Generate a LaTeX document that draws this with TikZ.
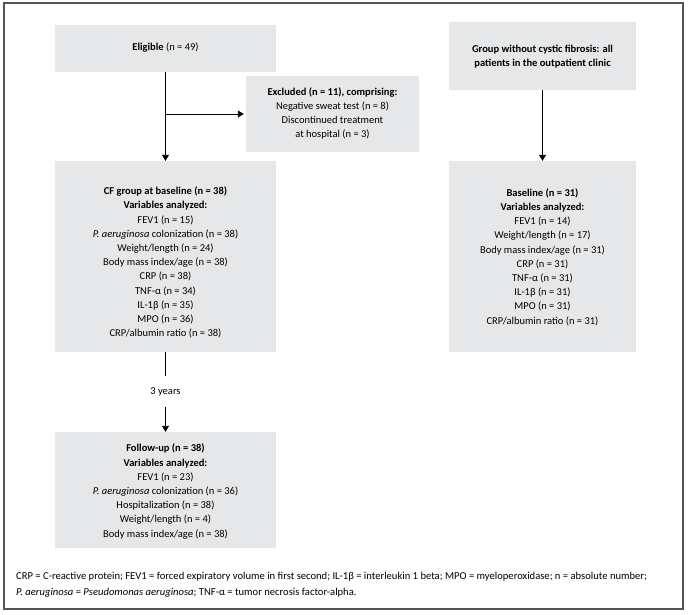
\documentclass[tikz,border=0pt]{standalone}
\usepackage{fontspec}
\setmainfont{Carlito}
\usetikzlibrary{arrows.meta}
\definecolor{boxgray}{HTML}{E6E7E8}
\definecolor{framegray}{HTML}{555555}
\tikzset{
  box/.style={fill=boxgray, draw=none, inner sep=0pt, anchor=center},
  txt/.style={align=center, inner sep=0pt, font=\fontsize{10.5}{14.2}\selectfont},
  arr/.style={line width=0.9pt, -{Triangle[width=7pt,length=6pt]}},
  plain/.style={line width=0.9pt},
}
\begin{document}
\begin{tikzpicture}[x=1pt,y=-1pt]
\useasboundingbox (0,0) rectangle (688,614);
\draw[framegray, line width=1.3pt] (4,3) rectangle (683,609);

% boxes
\node[box, minimum width=221pt, minimum height=47pt] (elig) at (165.5,48.5) {};
\node[box, minimum width=173pt, minimum height=76pt] (excl) at (332.5,114) {};
\node[box, minimum width=221pt, minimum height=191pt] (cf) at (165.5,256.5) {};
\node[box, minimum width=221pt, minimum height=116pt] (fu) at (165.5,490) {};
\node[box, minimum width=187pt, minimum height=68pt] (grp) at (542.5,56) {};
\node[box, minimum width=187pt, minimum height=191pt] (base) at (542.5,256.5) {};

% texts
\node[txt] (eligtxt) at (165.5,48) {\textbf{Eligible} (n = 49)};
\node[txt] (excltxt) at (332.5,113.5) {\textbf{Excluded (n = 11), comprising:}\\Negative sweat test (n = 8)\\Discontinued treatment\\at hospital (n = 3)};
\node[txt] (cftxt) at (165.5,262.5) {\textbf{CF group at baseline (n = 38)}\\\textbf{Variables analyzed:}\\FEV1 (n = 15)\\\textit{P. aeruginosa} colonization (n = 38)\\Weight/length (n = 24)\\Body mass index/age (n = 38)\\CRP (n = 38)\\TNF-α (n = 34)\\IL-1β (n = 35)\\MPO (n = 36)\\CRP/albumin ratio (n = 38)};
\node[txt] (futxt) at (165.5,491.5) {\textbf{Follow-up (n = 38)}\\\textbf{Variables analyzed:}\\FEV1 (n = 23)\\\textit{P. aeruginosa} colonization (n = 36)\\Hospitalization (n = 38)\\Weight/length (n = 4)\\Body mass index/age (n = 38)};
\node[txt] (grptxt) at (542.5,56.5) {\textbf{Group without cystic fibrosis: all}\\\textbf{patients in the outpatient clinic}};
\node[txt] (basetxt) at (542.5,257) {\textbf{Baseline (n = 31)}\\\textbf{Variables analyzed:}\\FEV1 (n = 14)\\Weight/length (n = 17)\\Body mass index/age (n = 31)\\CRP (n = 31)\\TNF-α (n = 31)\\IL-1β (n = 31)\\MPO (n = 31)\\CRP/albumin ratio (n = 31)};

% connectors
\coordinate (br) at (165.5,114);
\draw[arr] (elig) -- (cf);
\draw[arr, shorten >=2pt] (br) -- (br -| excl.west);
\draw[arr] (grp) -- (base);
\node[txt, minimum height=31pt] (years) at (165.5,391.5) {3 years};
\draw[plain] (cf) -- (years);
\draw[arr] (years) -- (fu);

% footnote
\node[anchor=west, inner sep=0pt, font=\fontsize{10.6}{16}\selectfont, align=left] (foot) at (16,585) {CRP = C-reactive protein; FEV1 = forced expiratory volume in first second; IL-1β = interleukin 1 beta; MPO = myeloperoxidase; n = absolute number;\\\textit{P. aeruginosa} = \textit{Pseudomonas aeruginosa}; TNF-α = tumor necrosis factor-alpha.};
\end{tikzpicture}
\end{document}
